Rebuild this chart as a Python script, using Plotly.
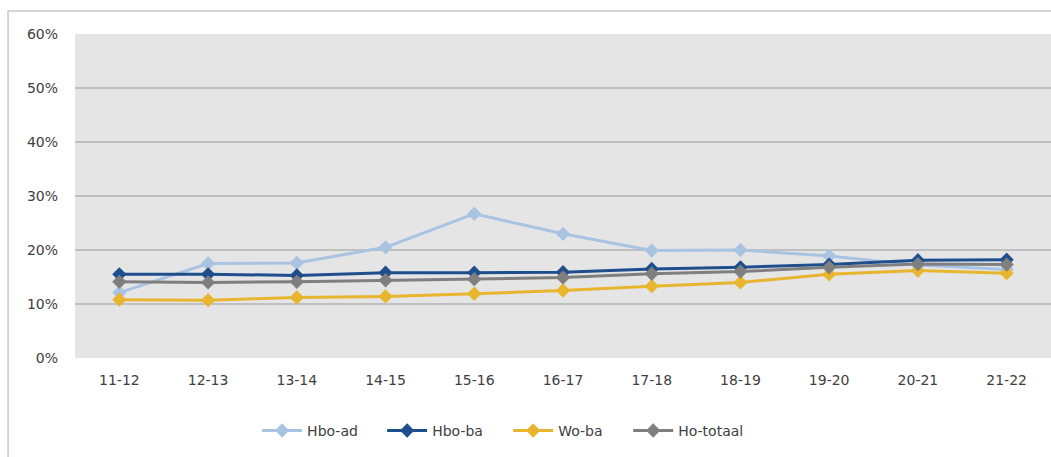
import plotly.graph_objects as go

categories = ["11-12", "12-13", "13-14", "14-15", "15-16", "16-17", "17-18", "18-19", "19-20", "20-21", "21-22"]
hbo_ad = [12.1, 17.5, 17.6, 20.5, 26.7, 23.0, 19.9, 20.0, 18.9, 17.2, 16.4]
hbo_ba = [15.5, 15.5, 15.3, 15.8, 15.8, 15.9, 16.5, 16.8, 17.3, 18.1, 18.2]
wo_ba = [10.8, 10.7, 11.2, 11.4, 11.9, 12.5, 13.3, 14.0, 15.5, 16.2, 15.7]
ho_totaal = [14.1, 14.0, 14.1, 14.4, 14.6, 14.9, 15.6, 16.0, 16.8, 17.4, 17.3]

series = [
    ("Hbo-ad", hbo_ad, "#A9C4E3"),
    ("Hbo-ba", hbo_ba, "#1F4E8C"),
    ("Wo-ba", wo_ba, "#E8B52E"),
    ("Ho-totaal", ho_totaal, "#7F7F7F"),
]
legend_x = [0.1866, 0.3147, 0.4438, 0.5668]

fig = go.Figure()
legend_layout = {}
for i, (name, vals, col) in enumerate(series):
    key = "legend" if i == 0 else f"legend{i + 1}"
    fig.add_trace(go.Scatter(
        x=categories, y=[v / 100 for v in vals], name=name, mode="lines+markers",
        line=dict(color=col, width=3),
        marker=dict(symbol="diamond", size=11, color=col),
        legend=key,
    ))
    legend_layout[key] = dict(orientation="h", x=legend_x[i], xanchor="left", y=-0.225,
                              yanchor="middle", font=dict(size=14, color="#404040"),
                              itemwidth=40, bgcolor="rgba(0,0,0,0)")

fig.update_layout(
    width=1051, height=457,
    margin=dict(l=75, r=0, t=34, b=99),
    paper_bgcolor="white", plot_bgcolor="#E5E5E5",
    font=dict(family="DejaVu Sans", size=14, color="#404040"),
    showlegend=True,
    xaxis=dict(type="category", range=[-0.5, 10.5], showgrid=False, zeroline=False,
               showline=False, ticks="", tickfont=dict(size=14), ticklabelstandoff=12),
    yaxis=dict(range=[0, 0.6], dtick=0.1, tickformat=".0%", showgrid=True,
               gridcolor="#BFBFBF", gridwidth=2, zeroline=False, showline=False,
               ticks="", tickfont=dict(size=14), ticklabelstandoff=16),
    shapes=[dict(type="rect", xref="paper", yref="paper", x0=-0.0686, x1=1.05, y0=-0.5, y1=1.071,
                 line=dict(color="#C8C8C8", width=1.5), fillcolor="rgba(0,0,0,0)", layer="below")],
    **legend_layout,
)

fig.write_html("out.html", config={"displayModeBar": False},
               post_script="document.body.style.margin='0';document.body.style.overflow='hidden';")
